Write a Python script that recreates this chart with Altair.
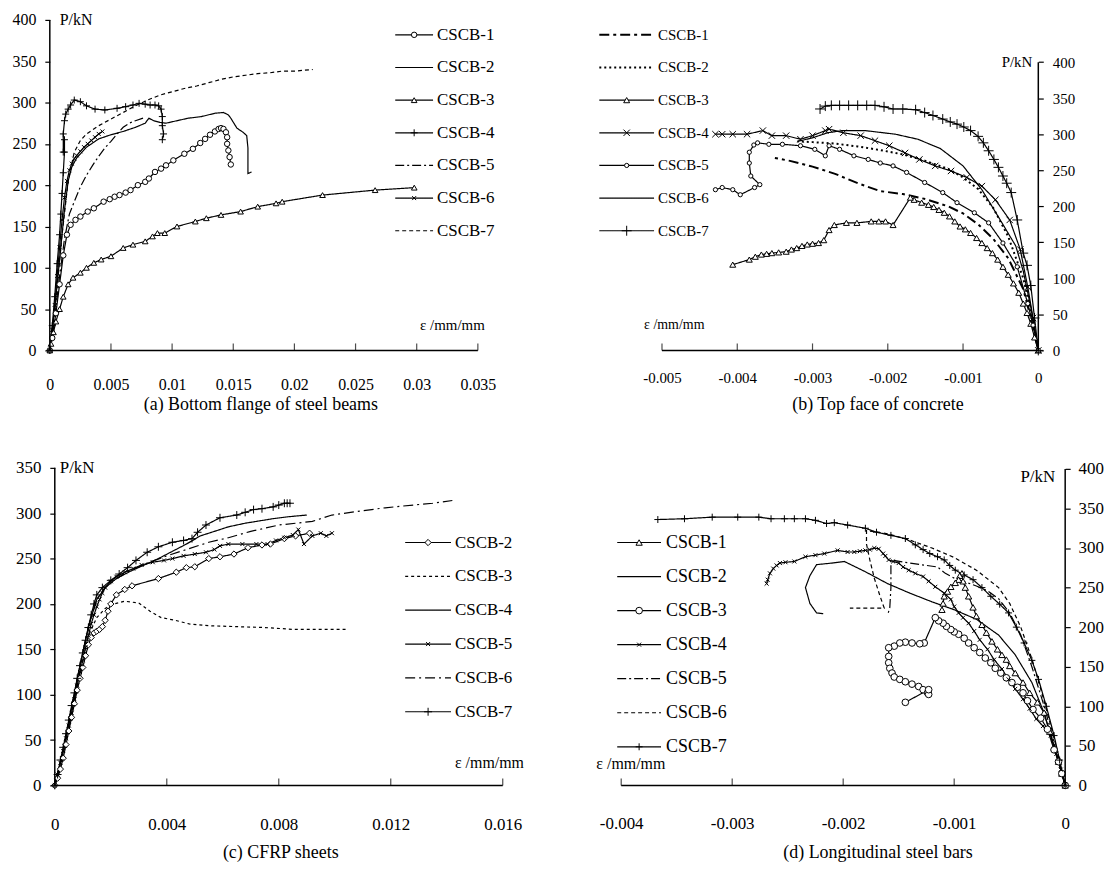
import altair as alt
import pandas as pd

# ---------------- data: (a) bottom flange of steel beams ----------------
a1_x = [0, 0.0002, 0.0005, 0.0008, 0.0011, 0.0014, 0.0017, 0.0021, 0.0025, 0.0031, 0.0036, 0.0044, 0.0049, 0.0053, 0.0057, 0.0062, 0.0066, 0.0072, 0.0078, 0.0081, 0.0086, 0.0091, 0.0095, 0.0101, 0.011, 0.0117, 0.0123, 0.0127, 0.0131, 0.0135, 0.0138, 0.014, 0.0142, 0.0144, 0.0145, 0.0145, 0.0146, 0.0147, 0.0148]
a1_y = [0, 15, 45, 80, 115, 140, 152, 158, 162, 168, 172, 180, 183, 186, 188, 191, 194, 200, 204, 208, 216, 220, 224, 230, 238, 244, 251, 256, 261, 265, 268, 269, 268, 264, 258, 250, 242, 234, 225]
a2_x = [0, 0.0004, 0.0008, 0.0012, 0.0015, 0.0018, 0.0022, 0.003, 0.004, 0.005, 0.006, 0.007, 0.0078, 0.0081, 0.0085, 0.009, 0.0095, 0.0101, 0.0107, 0.0113, 0.0124, 0.0135, 0.0142, 0.0146, 0.0148, 0.0153, 0.0158, 0.0161, 0.0162, 0.0162, 0.0162, 0.0165]
a2_y = [0, 50, 110, 170, 205, 222, 233, 246, 256, 261, 265, 270, 275, 281, 278, 276, 275, 277, 279, 281, 283, 287, 288, 285, 281, 269, 264, 260, 245, 228, 214, 216]
a3_x = [0, 0.0001, 0.0003, 0.0005, 0.0008, 0.0011, 0.0015, 0.0019, 0.0025, 0.003, 0.0036, 0.0042, 0.005, 0.006, 0.0068, 0.0078, 0.0084, 0.0088, 0.0094, 0.0104, 0.0119, 0.0128, 0.014, 0.0156, 0.017, 0.0185, 0.019, 0.0223, 0.0266, 0.0298]
a3_y = [0, 8, 22, 35, 50, 65, 80, 88, 94, 100, 106, 110, 114, 124, 128, 132, 138, 142, 142, 150, 156, 160, 164, 168, 174, 178, 180, 188, 194, 197]
a4_x = [0, 0.0002, 0.0004, 0.0006, 0.0008, 0.0009, 0.001, 0.0011, 0.0012, 0.0012, 0.0011, 0.0011, 0.0012, 0.0013, 0.0015, 0.0017, 0.002, 0.0025, 0.003, 0.0037, 0.0045, 0.0055, 0.0062, 0.0068, 0.0073, 0.0078, 0.0082, 0.0086, 0.0089, 0.0091, 0.0092, 0.0092, 0.0093, 0.0092]
a4_y = [0, 30, 65, 105, 140, 165, 190, 215, 240, 255, 240, 262, 278, 286, 292, 297, 303, 301, 296, 292, 291, 293, 295, 297, 299, 298, 297, 297, 296, 292, 283, 272, 262, 255]
a5_x = [0, 0.0004, 0.0008, 0.0012, 0.0016, 0.002, 0.0025, 0.003, 0.0035, 0.004, 0.0045, 0.005, 0.0055, 0.006, 0.0065, 0.007, 0.0078]
a5_y = [0, 40, 90, 135, 165, 180, 198, 212, 224, 235, 245, 253, 262, 270, 275, 278, 282]
a6_x = [0, 0.0002, 0.0004, 0.0006, 0.0008, 0.001, 0.0012, 0.0014, 0.0016, 0.0018, 0.002, 0.0022, 0.0025, 0.0028, 0.0031, 0.0034, 0.0037, 0.004, 0.0043]
a6_y = [0, 25, 55, 90, 125, 158, 185, 205, 218, 226, 232, 236, 241, 246, 250, 254, 258, 262, 265]
a7_x = [0, 0.0005, 0.001, 0.0015, 0.002, 0.0025, 0.003, 0.004, 0.005, 0.006, 0.007, 0.008, 0.009, 0.01, 0.011, 0.012, 0.013, 0.014, 0.015, 0.016, 0.017, 0.018, 0.019, 0.02, 0.0215]
a7_y = [0, 60, 140, 205, 240, 254, 262, 272, 280, 288, 296, 303, 309, 313, 317, 320, 324, 328, 331, 333, 335, 336, 338, 338, 340]

# ---------------- data: (b) top face of concrete ----------------
b1_x = [0, -0.0001, -0.0002, -0.0004, -0.0006, -0.0008, -0.001, -0.0012, -0.0015, -0.0018, -0.0021, -0.0024, -0.0027, -0.003, -0.0033, -0.0035]
b1_y = [0, 45, 85, 128, 155, 175, 190, 200, 210, 217, 221, 232, 245, 255, 263, 267]
b2_x = [0, -0.0001, -0.0002, -0.0004, -0.0006, -0.0008, -0.001, -0.0012, -0.0015, -0.0018, -0.0021, -0.0024, -0.0027, -0.003, -0.0032]
b2_y = [0, 55, 100, 158, 198, 224, 240, 252, 263, 272, 278, 283, 287, 289, 290]
b3_x = [0, -0.00005, -0.0001, -0.00015, -0.0002, -0.00026, -0.00033, -0.0004, -0.00047, -0.00054, -0.00061, -0.00068, -0.00075, -0.00082, -0.0009, -0.00097, -0.00104, -0.00111, -0.00118, -0.00125, -0.00132, -0.00139, -0.00146, -0.00155, -0.00165, -0.0017, -0.00193, -0.00203, -0.00212, -0.00222, -0.00241, -0.00255, -0.00271, -0.00278, -0.00285, -0.00292, -0.003, -0.00307, -0.00314, -0.00321, -0.00328, -0.00335, -0.00345, -0.00354, -0.00361, -0.00368, -0.00376, -0.00384, -0.00406]
b3_y = [0, 18, 37, 52, 65, 80, 93, 105, 116, 126, 135, 142, 149, 156, 163, 168, 172, 179, 186, 191, 195, 199, 202, 205, 209, 212, 174, 179, 179, 179, 177, 177, 174, 167, 153, 149, 148, 147, 145, 142, 140, 137, 136, 135, 134, 133, 130, 126, 119]
b4_x = [0, -0.00007, -0.00014, -0.00024, -0.00038, -0.00057, -0.00075, -0.00095, -0.00116, -0.00137, -0.00158, -0.00177, -0.00198, -0.00217, -0.00236, -0.00259, -0.00278, -0.00283, -0.003, -0.00316, -0.00335, -0.00354, -0.00366, -0.00387, -0.00406, -0.0042, -0.00429]
b4_y = [0, 45, 88, 140, 181, 209, 228, 240, 249, 256, 265, 274, 284, 291, 298, 302, 307, 305, 298, 293, 298, 298, 305, 300, 300, 300, 300]
b5_x = [0, -0.00007, -0.00014, -0.00028, -0.00047, -0.00066, -0.00085, -0.00108, -0.00127, -0.00151, -0.00175, -0.00193, -0.0021, -0.00226, -0.00245, -0.00264, -0.00278, -0.00283, -0.00297, -0.00316, -0.0034, -0.00358, -0.00373, -0.00378, -0.00384, -0.00384, -0.00382, -0.0037, -0.00377, -0.00396, -0.00406, -0.0042, -0.00429]
b5_y = [0, 35, 65, 116, 149, 177, 191, 205, 219, 233, 247, 256, 260, 265, 270, 279, 284, 270, 279, 284, 286, 286, 288, 285, 275, 260, 242, 230, 226, 216, 223, 226, 223]
b6_x = [0, -0.0001, -0.0002, -0.0003, -0.0005, -0.00075, -0.001, -0.0013, -0.0016, -0.0019, -0.0023, -0.0026, -0.0028, -0.003, -0.0032]
b6_y = [0, 60, 110, 145, 180, 223, 256, 280, 293, 300, 305, 305, 302, 295, 290]
b7_x = [0, -0.00005, -0.0001, -0.00015, -0.0002, -0.00028, -0.00036, -0.00042, -0.00047, -0.00053, -0.00059, -0.00066, -0.00073, -0.0008, -0.0009, -0.00099, -0.00108, -0.00117, -0.00127, -0.0014, -0.00151, -0.00163, -0.0018, -0.00193, -0.00205, -0.00217, -0.00228, -0.0024, -0.00252, -0.00264, -0.00275, -0.00283, -0.0029]
b7_y = [0, 45, 90, 118, 135, 181, 219, 232, 242, 254, 265, 277, 288, 297, 305, 310, 314, 317, 321, 326, 330, 334, 335, 335, 338, 340, 340, 340, 340, 340, 340, 339, 335]

# ---------------- data: (c) CFRP sheets ----------------
c2_x = [0, 0.0001, 0.0002, 0.0003, 0.0004, 0.0005, 0.0006, 0.0007, 0.0008, 0.0009, 0.001, 0.0011, 0.0012, 0.0013, 0.0014, 0.0015, 0.0016, 0.0017, 0.0018, 0.0019, 0.002, 0.0022, 0.0025, 0.00276, 0.0037, 0.00434, 0.0047, 0.005, 0.0055, 0.0059, 0.0064, 0.0069, 0.0074, 0.0077, 0.0082, 0.0086, 0.0091]
c2_y = [0, 8, 18, 30, 45, 60, 75, 90, 105, 118, 130, 143, 155, 163, 168, 170, 172, 175, 182, 192, 200, 210, 216, 220, 228, 235, 240, 241, 250, 252, 255, 262, 265, 266, 272, 275, 278]
c3_x = [0, 0.0003, 0.0006, 0.0009, 0.0012, 0.0015, 0.0018, 0.0021, 0.0025, 0.003, 0.0034, 0.0038, 0.0043, 0.0048, 0.0055, 0.0065, 0.0075, 0.0085, 0.0095, 0.0104]
c3_y = [0, 35, 80, 125, 165, 185, 195, 200, 203, 201, 192, 185, 182, 178, 176, 175, 174, 172, 172, 172]
c4_x = [0, 0.0003, 0.0006, 0.0009, 0.0012, 0.0015, 0.0018, 0.0022, 0.0027, 0.0032, 0.0037, 0.0042, 0.0047, 0.0052, 0.0057, 0.0062, 0.0068, 0.0074, 0.0078, 0.0083, 0.009]
c4_y = [0, 38, 85, 132, 175, 205, 218, 228, 236, 243, 250, 258, 266, 275, 280, 285, 289, 292, 294, 296, 298]
c5_x = [0, 0.0001, 0.0002, 0.0003, 0.0004, 0.0005, 0.0006, 0.0007, 0.0008, 0.0009, 0.001, 0.0011, 0.0012, 0.0013, 0.0014, 0.0015, 0.0016, 0.0017, 0.0018, 0.002, 0.0022, 0.0025, 0.0028, 0.0031, 0.0035, 0.0039, 0.0042, 0.0046, 0.005, 0.0054, 0.0057, 0.0059, 0.0062, 0.0067, 0.0072, 0.0076, 0.0079, 0.0082, 0.0085, 0.0087, 0.0089, 0.0092, 0.0095, 0.0097, 0.0099]
c5_y = [0, 12, 25, 38, 52, 66, 80, 95, 110, 125, 138, 152, 165, 178, 188, 197, 205, 212, 218, 225, 230, 235, 239, 243, 246, 248, 250, 253, 255, 257, 260, 264, 266, 266, 266, 266, 270, 273, 276, 282, 266, 275, 278, 275, 278]
c6_x = [0, 0.0003, 0.0006, 0.0009, 0.0012, 0.0015, 0.0018, 0.0022, 0.0027, 0.0033, 0.004, 0.0047, 0.0055, 0.0062, 0.007, 0.008, 0.0092, 0.0099, 0.0108, 0.0118, 0.0128, 0.0135, 0.0142]
c6_y = [0, 38, 85, 132, 175, 205, 218, 228, 237, 245, 253, 260, 268, 273, 280, 287, 291, 298, 302, 306, 309, 311, 314]
c7_x = [0, 0.0001, 0.0002, 0.0003, 0.0004, 0.0005, 0.0006, 0.0007, 0.0008, 0.0009, 0.001, 0.0011, 0.0012, 0.0013, 0.0014, 0.0015, 0.0017, 0.002, 0.0023, 0.0026, 0.0029, 0.0033, 0.0037, 0.0042, 0.0046, 0.0049, 0.0051, 0.0054, 0.0059, 0.0065, 0.0068, 0.0071, 0.0074, 0.0078, 0.008, 0.0082, 0.0083, 0.0084]
c7_y = [0, 12, 28, 42, 57, 72, 88, 102, 118, 132, 146, 160, 174, 188, 200, 210, 218, 226, 233, 240, 248, 257, 263, 268, 270, 272, 279, 287, 295, 298, 301, 304, 305, 307, 309, 311, 311, 311]

# ---------------- data: (d) longitudinal steel bars ----------------
d1_x = [0, -0.00003, -0.00006, -0.0001, -0.00014, -0.00019, -0.00025, -0.00032, -0.00038, -0.00045, -0.0005, -0.00053, -0.00057, -0.00061, -0.00066, -0.00071, -0.00075, -0.0008, -0.00083, -0.00087, -0.0009, -0.00092, -0.00093, -0.00095, -0.00096, -0.00099, -0.00103, -0.00106, -0.00109, -0.0011, -0.00111]
d1_y = [0, 15, 30, 48, 68, 92, 105, 117, 130, 142, 151, 159, 165, 172, 182, 193, 203, 214, 225, 239, 250, 258, 268, 265, 260, 256, 251, 245, 239, 230, 222]
d2_x = [0, -0.0001, -0.0002, -0.0003, -0.00045, -0.0006, -0.0008, -0.001, -0.0012, -0.0014, -0.0016, -0.0018, -0.00199, -0.0021, -0.00224, -0.0023, -0.00234, -0.0023, -0.00224, -0.00218]
d2_y = [0, 50, 95, 130, 165, 190, 210, 222, 232, 243, 255, 270, 283, 281, 279, 265, 250, 230, 218, 217]
d3_x = [0, -0.00003, -0.00006, -0.0001, -0.00016, -0.00022, -0.00029, -0.00034, -0.00038, -0.00043, -0.00048, -0.00053, -0.00058, -0.00063, -0.00067, -0.00072, -0.00077, -0.00082, -0.00087, -0.00091, -0.00096, -0.001, -0.00103, -0.00107, -0.0011, -0.00114, -0.00117, -0.00127, -0.00131, -0.00138, -0.00144, -0.00149, -0.00154, -0.00159, -0.00159, -0.00159, -0.00158, -0.00156, -0.00154, -0.00149, -0.00144, -0.00138, -0.00132, -0.00128, -0.00124, -0.00123, -0.00123, -0.00144]
d3_y = [0, 15, 30, 45, 71, 85, 96, 107, 117, 124, 130, 136, 142, 148, 155, 161, 168, 174, 180, 186, 191, 194, 197, 201, 205, 208, 212, 180, 179, 180, 181, 180, 176, 174, 163, 155, 148, 142, 137, 134, 131, 128, 125, 121, 117, 115, 121, 105]
d4_x = [0, -0.00004, -0.00008, -0.00013, -0.0002, -0.00026, -0.00032, -0.00038, -0.00045, -0.00051, -0.00057, -0.00064, -0.0007, -0.00077, -0.00082, -0.00087, -0.00092, -0.00096, -0.001, -0.00103, -0.00109, -0.00117, -0.00123, -0.00128, -0.00135, -0.00141, -0.00146, -0.0015, -0.00155, -0.00159, -0.00162, -0.00164, -0.00168, -0.00172, -0.00176, -0.0018, -0.00185, -0.0019, -0.00196, -0.00205, -0.00217, -0.00225, -0.00234, -0.00244, -0.00252, -0.00257, -0.0026, -0.00263, -0.00266, -0.00268, -0.00269]
d4_y = [0, 20, 40, 63, 75, 84, 97, 109, 122, 134, 147, 159, 172, 184, 195, 205, 212, 218, 226, 235, 243, 251, 258, 264, 268, 272, 276, 281, 283, 285, 290, 293, 299, 300, 298, 297, 296, 295, 295, 297, 293, 291, 289, 283, 282, 281, 278, 274, 268, 260, 255]
d5_x = [0, -0.0001, -0.0002, -0.0003, -0.0004, -0.0005, -0.0006, -0.0007, -0.0008, -0.0009, -0.001, -0.00108, -0.00115, -0.0013, -0.00145, -0.00157, -0.00157, -0.00157, -0.00158, -0.0016]
d5_y = [0, 55, 105, 150, 190, 218, 236, 246, 252, 257, 262, 268, 276, 279, 282, 285, 275, 250, 225, 215]
d6_x = [0, -0.0001, -0.0002, -0.0003, -0.0004, -0.0005, -0.0006, -0.0008, -0.001, -0.0012, -0.0014, -0.0016, -0.00179, -0.00179, -0.00176, -0.00172, -0.00167, -0.00163, -0.0018, -0.00194]
d6_y = [0, 60, 112, 160, 200, 230, 250, 272, 288, 300, 310, 318, 322, 305, 285, 262, 240, 224, 224, 224]
d7_x = [0, -0.00005, -0.0001, -0.00017, -0.00024, -0.0003, -0.00037, -0.00044, -0.00051, -0.00059, -0.00067, -0.00075, -0.00083, -0.00091, -0.00099, -0.00104, -0.00109, -0.00115, -0.00122, -0.00128, -0.00135, -0.00144, -0.00157, -0.0017, -0.0018, -0.00196, -0.00208, -0.00215, -0.00225, -0.00234, -0.00244, -0.00253, -0.00265, -0.00276, -0.00295, -0.00318, -0.00343, -0.00367]
d7_y = [0, 32, 63, 100, 134, 158, 180, 200, 218, 229, 239, 250, 260, 266, 272, 278, 285, 289, 293, 298, 304, 312, 316, 320, 325, 329, 332, 331, 335, 337, 337, 337, 337, 339, 339, 339, 337, 336]

# tick values
a_xticks = [0, 0.005, 0.01, 0.015, 0.02, 0.025, 0.03, 0.035]
b_xticks = [-0.005, -0.004, -0.003, -0.002, -0.001, 0]
c_xticks = [0, 0.004, 0.008, 0.012, 0.016]
d_xticks = [-0.004, -0.003, -0.002, -0.001, 0]
p400_ticks = [0, 50, 100, 150, 200, 250, 300, 350, 400]
p350_ticks = [0, 50, 100, 150, 200, 250, 300, 350]

# ---------------- styles ----------------
LFONT = "Liberation Serif"
CFONT = "Liberation Serif"
PLUS = "M-1,0H1M0,-1V1"
XMK = "M-0.8,-0.8L0.8,0.8M-0.8,0.8L0.8,-0.8"
SOLID = [1, 0]


def st(dash=SOLID, shape=None, size=30, w=1.2):
    return {"dash": dash, "shape": shape, "size": size, "w": w}


def to_df(curves, styles):
    rows = []
    for name, xs, ys in curves:
        for i, (x, y) in enumerate(zip(xs, ys)):
            rows.append({"series": name, "x": x, "y": y, "i": i,
                         "sz": styles[name]["size"], "sw": styles[name]["w"]})
    return pd.DataFrame(rows)


def txt(s, x, y, font, size, align="left"):
    return alt.Chart(pd.DataFrame({"t": [s]})).mark_text(
        align=align, baseline="middle", font=font, fontSize=size, color="black"
    ).encode(x=alt.value(x), y=alt.value(y), text="t:N")


def panel(curves, styles, W, H, xdom, ydom, xticks, yticks, yorient, yoff,
          xline, ytop, fs, xlabpad, leg, plab, elab, cap, ylabpad=9):
    names = [c[0] for c in curves]
    df = to_df(curves, styles)
    dashes = alt.Scale(domain=names, range=[styles[n]["dash"] for n in names])
    marked = [n for n in names if styles[n]["shape"]]
    shapes = alt.Scale(domain=marked, range=[styles[n]["shape"] for n in marked])

    xs = alt.Scale(domain=xdom, nice=False, zero=False)
    ys = alt.Scale(domain=ydom, nice=False, zero=False)
    xaxis = alt.Axis(values=xticks, labelExpr="'' + datum.value", ticks=False, domain=False,
                     grid=False, title=None, labelFont=LFONT, labelFontSize=fs,
                     labelColor="black", labelPadding=xlabpad, labelFlush=False,
                     labelOverlap=False)
    yaxis = alt.Axis(orient=yorient, offset=yoff, values=yticks, tickSize=5, tickColor="black",
                     tickWidth=1.2, domain=False, grid=False, title=None, labelFont=LFONT,
                     labelFontSize=fs, labelColor="black", labelPadding=ylabpad, labelFlush=False,
                     labelOverlap=False, labelBound=False, labelSeparation=0)
    X = lambda f: alt.X(f, scale=xs, axis=xaxis)
    Y = lambda f: alt.Y(f, scale=ys, axis=yaxis)

    base = alt.Chart(df)
    lines = base.mark_line(color="black").encode(
        x=X("x:Q"), y=Y("y:Q"),
        detail="series:N",
        order="i:Q",
        strokeDash=alt.StrokeDash("series:N", scale=dashes, legend=None),
        strokeWidth=alt.StrokeWidth("sw:Q", scale=None),
    )
    pts = base.transform_filter(
        alt.FieldOneOfPredicate(field="series", oneOf=marked)
    ).mark_point(filled=True, fill="white", stroke="black", strokeWidth=1, opacity=1).encode(
        x=X("x:Q"), y=Y("y:Q"),
        shape=alt.Shape("series:N", scale=shapes, legend=None),
        size=alt.Size("sz:Q", scale=None),
    )
    xl = alt.Chart(pd.DataFrame({"x": [xline[0]], "x2": [xline[1]], "y": [0]})).mark_rule(
        color="black", strokeWidth=1.5).encode(x=X("x:Q"), x2="x2:Q", y=Y("y:Q"))
    yl = alt.Chart(pd.DataFrame({"x": [0], "y": [0], "y2": [ytop]})).mark_rule(
        color="black", strokeWidth=1.5).encode(x=X("x:Q"), y=Y("y:Q"), y2="y2:Q")
    xt = alt.Chart(pd.DataFrame({"x": xticks, "y": [0] * len(xticks)})).mark_tick(
        orient="vertical", size=7, thickness=1.2, color="black", yOffset=-3.5
    ).encode(x=X("x:Q"), y=Y("y:Q"))

    lx0, lx1, ltx, ly0, ldy, lfs = leg
    n = len(names)
    ldf = pd.DataFrame({
        "series": names,
        "a": [lx0] * n, "b": [lx1] * n, "m": [(lx0 + lx1) / 2] * n, "t": [ltx] * n,
        "ly": [ly0 + ldy * k for k in range(n)],
        "sz": [styles[s]["size"] for s in names], "sw": [styles[s]["w"] for s in names],
    })
    legline = alt.Chart(ldf).mark_rule(color="black").encode(
        x=alt.X("a:Q", scale=None), x2="b:Q", y=alt.Y("ly:Q", scale=None),
        strokeDash=alt.StrokeDash("series:N", scale=dashes, legend=None),
        strokeWidth=alt.StrokeWidth("sw:Q", scale=None),
    )
    legpt = alt.Chart(ldf).transform_filter(
        alt.FieldOneOfPredicate(field="series", oneOf=marked)
    ).mark_point(filled=True, fill="white", stroke="black", strokeWidth=1, opacity=1).encode(
        x=alt.X("m:Q", scale=None), y=alt.Y("ly:Q", scale=None),
        shape=alt.Shape("series:N", scale=shapes, legend=None),
        size=alt.Size("sz:Q", scale=None),
    )
    legtxt = alt.Chart(ldf).mark_text(align="left", baseline="middle", font=LFONT,
                                      fontSize=lfs, color="black").encode(
        x=alt.X("t:Q", scale=None), y=alt.Y("ly:Q", scale=None), text="series:N")

    t1 = txt("P/kN", plab[0], plab[1], LFONT, fs, plab[2])
    t2 = txt("ε /mm/mm", elab[0], elab[1], LFONT, fs - 1, "left")
    t3 = txt(cap[0], cap[1], cap[2], CFONT, 18, "center")
    return alt.layer(lines, pts, xl, yl, xt, legline, legpt, legtxt, t1, t2, t3).properties(
        width=W, height=H)


N = ["CSCB-1", "CSCB-2", "CSCB-3", "CSCB-4", "CSCB-5", "CSCB-6", "CSCB-7"]

pa = panel(
    [(N[0], a1_x, a1_y), (N[1], a2_x, a2_y), (N[2], a3_x, a3_y), (N[3], a4_x, a4_y),
     (N[4], a5_x, a5_y), (N[5], a6_x, a6_y), (N[6], a7_x, a7_y)],
    {N[0]: st(shape="circle", size=30), N[1]: st(), N[2]: st(shape="triangle-up", size=32),
     N[3]: st(shape=PLUS, size=49), N[4]: st(dash=[9, 3, 2, 3]), N[5]: st(shape=XMK, size=25),
     N[6]: st(dash=[4, 3])},
    430, 332, [0, 0.035], [0, 400], a_xticks, p400_ticks, "left", 0,
    (0, 0.035), 400, 16, 26, (347, 385, 389, 15, 32.8, 17),
    (10, 0, "left"), (372, 307), ("(a) Bottom flange of steel beams", 212, 387))

pb = panel(
    [(N[0], b1_x, b1_y), (N[1], b2_x, b2_y), (N[2], b3_x, b3_y), (N[3], b4_x, b4_y),
     (N[4], b5_x, b5_y), (N[5], b6_x, b6_y), (N[6], b7_x, b7_y)],
    {N[0]: st(dash=[10, 4, 3, 4], w=2), N[1]: st(dash=[2, 3], w=2),
     N[2]: st(shape="triangle-up", size=36), N[3]: st(shape=XMK, size=64),
     N[4]: st(shape="circle", size=18), N[5]: st(), N[6]: st(shape=PLUS, size=100)},
    446, 332, [-0.005542, 0.000357], [0, 458.6], b_xticks, p400_ticks, "right", -27,
    (-0.005, 0), 400, 15, 20, (-22, 33, 37, 15, 32.8, 15),
    (413, 42, "right"), (23, 307), ("(b) Top face of concrete", 258, 387))

pc = panel(
    [(N[1], c2_x, c2_y), (N[2], c3_x, c3_y), (N[3], c4_x, c4_y), (N[4], c5_x, c5_y),
     (N[5], c6_x, c6_y), (N[6], c7_x, c7_y)],
    {N[1]: st(shape="diamond", size=40), N[2]: st(dash=[3, 3]), N[3]: st(),
     N[4]: st(shape=XMK, size=25), N[5]: st(dash=[10, 4, 2, 4]), N[6]: st(shape=PLUS, size=64)},
    455, 319, [-0.000178, 0.016], [0, 350], c_xticks, p350_ticks, "left", -5,
    (0, 0.016), 350, 17, 31, (357, 403, 407, 75, 34, 17),
    (10, 0, "left"), (407, 297), ("(c) CFRP sheets", 232, 387))

pd_ = panel(
    [(N[0], d1_x, d1_y), (N[1], d2_x, d2_y), (N[2], d3_x, d3_y), (N[3], d4_x, d4_y),
     (N[4], d5_x, d5_y), (N[5], d6_x, d6_y), (N[6], d7_x, d7_y)],
    {N[0]: st(shape="triangle-up", size=40), N[1]: st(), N[2]: st(shape="circle", size=45),
     N[3]: st(shape=XMK, size=25), N[4]: st(dash=[9, 3, 2, 3]), N[5]: st(dash=[4, 3]),
     N[6]: st(shape=PLUS, size=49)},
    446, 319, [-0.004, 0], [0, 401.3], d_xticks, p400_ticks, "right", 0,
    (-0.004, 0), 400, 17, 30, (-4, 40, 45, 75, 34.2, 18),
    (436, 9, "right"), (-25, 298), ("(d) Longitudinal steel bars", 258, 387), ylabpad=8)

chart = alt.concat(pa, pb, pc, pd_, columns=2).resolve_scale(
    strokeDash="independent", shape="independent",
).properties(
    spacing={"row": 118, "column": 119},
    bounds="flush",
    padding={"left": 4, "top": 2, "right": 0, "bottom": 4},
).configure_view(stroke=None)

chart.save("out.html", embed_options={"renderer": "svg", "actions": False})
